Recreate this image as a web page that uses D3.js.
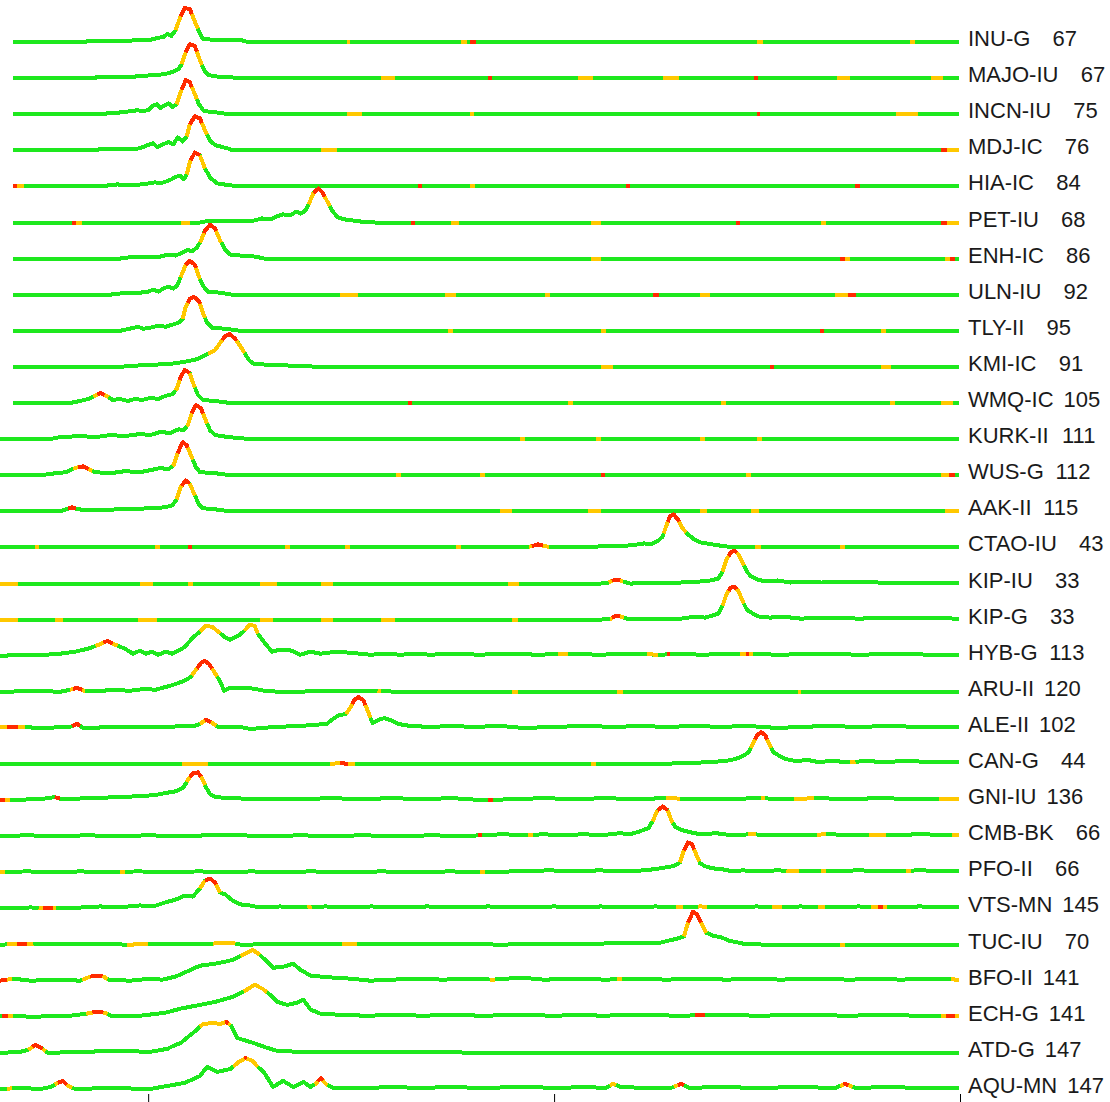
<!DOCTYPE html>
<html>
<head>
<meta charset="utf-8">
<script src="https://cdn.jsdelivr.net/npm/d3@7"></script>
<style>
  body { margin: 0; background: #fff; }
  svg { display: block; }
  .lbl { font-family: "Liberation Sans", Arial, sans-serif; font-size: 22px; fill: #1a1a1a; }
</style>
</head>
<body>
<div id="chart"></div>
<script>
//Estaciones y distancias (grados)
const stations = ['INU-G','MAJO-IU','INCN-IU','MDJ-IC','HIA-IC','PET-IU','ENH-IC','ULN-IU','TLY-II','KMI-IC',
  'WMQ-IC','KURK-II','WUS-G','AAK-II','CTAO-IU','KIP-IU','KIP-G','HYB-G','ARU-II','ALE-II',
  'CAN-G','GNI-IU','CMB-BK','PFO-II','VTS-MN','TUC-IU','BFO-II','ECH-G','ATD-G','AQU-MN'];
const distances = [67,67,75,76,84,68,86,92,95,91,105,111,112,115,43,33,33,113,120,102,44,136,66,66,145,70,141,141,147,147];
const timeTicks = [0, 400, 800];

//Envolventes: [tiempo (s), amplitud (%)]
const INU_G = [[-133,0],[-62,0],[-59,3],[-18,3],[-14,6],[2,6],[9,12],[15,15],[19,24],[23,18],[27,35],[32,76],[36,100],[41,97],[47,53],[50,32],[54,9],[66,6],[91,6],[98,0],[799,0]];
const MAJO_IU = [[-133,0],[-52,0],[-51,3],[-18,3],[-8,6],[7,9],[17,12],[24,18],[30,26],[33,41],[37,76],[41,100],[46,94],[51,53],[55,24],[59,9],[71,3],[101,0],[799,0]];
const INCN_IU = [[-133,0],[-42,0],[-40,3],[-30,3],[-28,6],[-15,9],[-11,12],[-5,9],[0,12],[4,24],[9,29],[12,18],[16,26],[20,32],[24,21],[28,29],[32,65],[37,100],[41,94],[46,59],[50,29],[55,9],[66,6],[79,0],[799,0]];
const MDJ_IC = [[-133,0],[-50,0],[-49,3],[-15,3],[-8,6],[-1,15],[5,21],[9,9],[15,18],[20,24],[25,18],[29,38],[34,26],[38,41],[41,76],[46,100],[51,94],[56,59],[61,29],[66,15],[78,6],[83,0],[799,0]];
const HIA_IC = [[-133,0],[-42,0],[-40,3],[-30,6],[-26,3],[-5,6],[7,12],[12,9],[18,15],[23,21],[28,29],[32,32],[35,21],[38,35],[41,71],[46,100],[51,91],[56,53],[61,26],[68,9],[81,3],[94,0],[799,0]];
const PET_IU = [[-133,0],[51,0],[56,3],[91,3],[105,6],[112,12],[120,9],[127,18],[133,24],[140,21],[146,32],[150,26],[155,35],[159,59],[163,88],[168,100],[172,88],[177,59],[182,32],[187,15],[194,9],[209,3],[224,0],[799,0]];
const ENH_IC = [[-133,0],[-28,0],[-23,3],[12,6],[20,12],[27,9],[34,18],[39,26],[43,21],[48,32],[52,53],[56,82],[61,100],[66,88],[71,53],[76,26],[81,12],[91,9],[105,6],[115,0],[799,0]];
const ULN_IU = [[-133,0],[-37,0],[-32,3],[-8,6],[0,9],[5,15],[10,9],[15,18],[20,24],[25,18],[29,29],[33,59],[37,88],[41,100],[46,88],[50,53],[54,26],[59,9],[71,6],[83,0],[799,0]];
const TLY_II = [[-133,0],[-28,0],[-23,3],[-10,12],[-5,6],[2,9],[10,15],[17,12],[24,18],[30,24],[34,35],[37,71],[41,94],[45,100],[50,88],[54,53],[58,24],[63,9],[76,6],[91,0],[799,0]];
const KMI_IC = [[-133,0],[-28,0],[-18,3],[2,6],[22,9],[36,15],[46,21],[51,26],[56,35],[61,41],[66,50],[71,71],[76,91],[80,97],[85,85],[90,65],[95,41],[99,21],[104,9],[120,6],[150,3],[170,0],[799,0]];
const WMQ_IC = [[-133,0],[-77,0],[-67,6],[-59,12],[-53,21],[-47,29],[-41,21],[-35,9],[-28,12],[-20,6],[-13,12],[-6,9],[2,15],[10,12],[17,21],[24,26],[28,41],[32,76],[36,97],[41,88],[45,53],[49,24],[54,9],[66,6],[81,0],[799,0]];
const KURK_II = [[-146,0],[-97,0],[-87,6],[-67,9],[-52,6],[-37,12],[-23,9],[-8,15],[2,12],[12,21],[22,18],[30,29],[35,26],[39,41],[43,76],[47,100],[52,91],[57,53],[61,26],[66,12],[79,6],[101,0],[799,0]];
const WUS_G = [[-146,0],[-106,0],[-91,6],[-81,9],[-75,18],[-69,24],[-64,26],[-59,18],[-52,9],[-37,6],[-23,12],[-8,9],[2,15],[12,21],[20,18],[25,29],[29,65],[34,97],[38,88],[43,53],[47,24],[51,9],[66,6],[81,0],[799,0]];
const AAK_II = [[-146,0],[-87,0],[-81,6],[-75,12],[-69,6],[-57,3],[-28,6],[2,9],[17,12],[24,18],[28,35],[32,71],[37,91],[41,82],[46,47],[50,21],[54,9],[66,6],[81,0],[799,0]];
const CTAO_IU = [[-146,0],[367,0],[377,3],[384,9],[392,3],[406,0],[446,3],[476,6],[489,12],[495,9],[503,21],[507,32],[510,59],[514,91],[518,97],[522,82],[526,59],[531,41],[537,26],[544,15],[556,9],[569,3],[584,0],[799,0]];
const KIP_IU = [[-146,0],[446,0],[454,3],[458,9],[463,12],[468,6],[475,0],[525,3],[544,6],[554,9],[562,15],[566,35],[570,71],[574,91],[578,97],[582,85],[586,59],[590,35],[594,21],[600,12],[609,6],[620,9],[633,3],[650,6],[663,3],[690,6],[720,3],[799,3]];
const KIP_G = [[-146,0],[446,0],[456,3],[461,12],[466,9],[472,3],[525,3],[539,9],[549,6],[556,12],[562,18],[566,41],[570,76],[574,94],[578,97],[582,82],[586,53],[590,29],[596,18],[602,9],[613,6],[625,9],[643,3],[670,6],[700,3],[740,6],[799,3]];
const HYB_G = [[-146,0],[-116,3],[-101,3],[-87,6],[-72,12],[-59,21],[-49,32],[-40,44],[-32,32],[-23,21],[-15,6],[-8,15],[-2,6],[4,12],[10,3],[17,12],[24,6],[30,15],[36,26],[44,53],[51,71],[57,88],[63,85],[69,71],[75,56],[81,47],[89,59],[95,74],[100,91],[105,88],[108,65],[114,41],[122,12],[130,18],[142,15],[150,3],[160,12],[170,6],[185,12],[199,9],[219,3],[235,6],[248,3],[265,6],[278,3],[300,6],[327,3],[350,6],[386,3],[410,6],[446,3],[470,6],[505,3],[525,6],[544,3],[580,6],[623,3],[660,6],[702,3],[740,6],[770,3],[799,3]];
const ARU_II = [[-146,0],[-106,3],[-87,0],[-77,6],[-70,12],[-63,3],[-47,3],[-32,6],[-18,3],[-3,9],[7,6],[14,12],[22,18],[30,26],[37,35],[42,44],[47,65],[52,85],[56,91],[60,82],[65,59],[70,35],[75,3],[81,12],[95,12],[105,9],[115,3],[130,0],[200,3],[260,0],[799,0]];
const ALE_II = [[-146,3],[-126,3],[-106,0],[-77,3],[-70,12],[-64,0],[-28,3],[12,3],[46,6],[51,12],[57,24],[63,15],[69,3],[91,3],[101,-3],[125,3],[150,6],[164,9],[176,12],[182,26],[188,38],[195,41],[199,59],[203,82],[207,91],[212,82],[216,53],[221,15],[227,24],[233,29],[241,21],[246,12],[258,6],[278,3],[300,6],[320,3],[347,6],[370,0],[400,3],[430,6],[460,3],[485,6],[510,3],[540,6],[564,3],[590,6],[620,0],[643,3],[670,6],[700,3],[730,6],[760,3],[799,3]];
const CAN_G = [[-146,0],[179,0],[189,3],[199,0],[495,0],[534,3],[554,6],[569,9],[579,15],[586,24],[592,35],[596,59],[600,85],[604,94],[608,85],[612,59],[616,35],[622,24],[628,15],[638,9],[650,12],[660,6],[673,9],[690,6],[710,9],[722,6],[750,9],[770,6],[799,6]];
const GNI_IU = [[-146,0],[-106,3],[-92,9],[-85,3],[-57,6],[-28,9],[-8,12],[7,15],[17,21],[27,26],[35,38],[39,59],[44,79],[49,82],[53,65],[57,38],[61,18],[66,9],[81,6],[110,3],[150,3],[180,6],[210,3],[240,6],[270,3],[300,6],[330,0],[360,3],[390,6],[420,3],[450,6],[480,3],[510,6],[540,3],[570,3],[600,6],[630,3],[660,6],[690,3],[720,6],[760,3],[799,3]];
const CMB_BK = [[-146,0],[-120,3],[-90,0],[-60,3],[-30,0],[0,3],[30,0],[60,3],[90,3],[120,0],[150,3],[180,0],[210,3],[248,0],[280,3],[310,0],[327,3],[350,6],[372,3],[390,6],[406,3],[430,6],[446,3],[465,9],[475,6],[485,15],[493,24],[497,44],[502,76],[507,88],[512,76],[516,44],[520,26],[526,18],[534,12],[544,6],[560,9],[575,3],[594,6],[615,3],[643,3],[670,6],[700,3],[730,3],[760,6],[799,3]];
const PFO_II = [[-146,0],[-120,3],[-90,0],[-67,3],[-40,0],[-10,3],[20,0],[50,3],[80,0],[101,3],[130,0],[160,3],[199,0],[230,3],[260,0],[298,3],[330,0],[360,3],[396,6],[420,3],[445,6],[466,3],[490,6],[505,12],[517,18],[524,29],[528,65],[532,88],[536,82],[540,53],[544,26],[549,18],[556,12],[566,9],[576,3],[586,6],[600,3],[620,6],[643,3],[670,3],[700,6],[730,3],[760,6],[799,3]];
const VTS_MN = [[-146,0],[-116,3],[-87,0],[-65,3],[-47,6],[-30,3],[-8,9],[5,6],[17,18],[27,26],[36,38],[44,35],[51,59],[56,82],[61,88],[66,76],[71,47],[76,41],[83,24],[91,12],[100,9],[110,3],[130,6],[150,3],[175,6],[199,3],[220,6],[248,3],[275,6],[308,3],[335,6],[367,3],[400,6],[425,3],[446,6],[470,3],[500,6],[525,3],[544,6],[570,3],[600,6],[620,3],[643,6],[670,3],[700,6],[730,3],[760,6],[799,3]];
const TUC_IU = [[-146,0],[-87,3],[-21,0],[64,3],[81,6],[91,0],[248,3],[347,0],[446,3],[505,6],[522,18],[528,24],[532,65],[537,97],[541,88],[546,59],[550,35],[557,26],[565,21],[572,12],[586,3],[605,0],[799,0]];
const BFO_II = [[-146,0],[-133,6],[-116,0],[-87,3],[-67,0],[-57,12],[-51,15],[-44,12],[-39,3],[-18,0],[2,6],[14,3],[27,12],[36,24],[51,44],[66,50],[76,56],[84,62],[93,76],[103,91],[110,76],[115,62],[123,38],[133,41],[143,50],[150,32],[160,15],[170,12],[183,9],[199,6],[219,0],[240,3],[268,6],[290,3],[317,6],[340,3],[367,9],[390,3],[426,6],[450,3],[485,6],[510,3],[544,6],[570,3],[600,6],[623,3],[650,6],[692,3],[720,6],[741,3],[770,6],[799,3]];
const ECH_G = [[-146,3],[-133,3],[-116,0],[-77,3],[-61,9],[-51,15],[-43,12],[-37,3],[-8,3],[17,12],[32,24],[51,35],[66,44],[84,59],[95,76],[105,94],[113,82],[120,65],[127,44],[137,35],[146,41],[153,50],[160,21],[170,9],[189,6],[215,3],[248,6],[270,3],[298,6],[330,3],[367,6],[400,3],[430,6],[446,3],[480,6],[525,3],[560,6],[604,3],[640,6],[692,3],[720,6],[760,3],[799,3]];
const ATD_G = [[-146,0],[-126,3],[-118,9],[-111,24],[-104,12],[-99,0],[-67,3],[-28,6],[2,3],[19,12],[25,21],[32,29],[38,44],[48,68],[54,85],[64,88],[71,85],[77,91],[82,79],[88,44],[94,38],[104,29],[117,15],[127,6],[150,3],[248,3],[347,0],[799,0]];
const AQU_MN = [[-146,0],[-126,3],[-106,0],[-96,6],[-89,18],[-84,24],[-79,9],[-72,0],[-37,3],[2,0],[19,9],[36,18],[51,38],[58,65],[68,50],[81,59],[89,79],[96,91],[103,82],[108,65],[114,50],[123,6],[133,24],[143,6],[153,21],[160,6],[165,15],[170,32],[175,15],[183,3],[216,3],[240,6],[268,3],[300,6],[327,3],[370,6],[406,3],[430,6],[451,3],[458,15],[466,6],[490,3],[515,3],[525,15],[533,3],[560,6],[604,3],[640,6],[677,3],[687,15],[697,3],[730,6],[760,3],[799,3]];

//Tramos coloreados: [t inicio, t fin, nivel] (1 = amarillo, 2 = rojo)
const INU_G_col = [[27,32,1],[32,43,2],[43,49,1],[196,199,1],[308,314,1],[317,323,2],[600,606,1],[751,756,1]];
const MAJO_IU_col = [[33,37,1],[37,48,2],[48,53,1],[229,243,1],[335,339,2],[424,438,1],[507,523,1],[597,601,2],[679,692,1],[771,783,1]];
const INCN_IU_col = [[28,33,1],[33,43,2],[43,48,1],[196,211,1],[317,321,1],[600,603,2],[737,759,1]];
const MDJ_IC_col = [[38,41,1],[41,53,2],[53,58,1],[170,186,1],[781,787,2],[787,799,1]];
const HIA_IC_col = [[-133,-129,2],[-129,-122,1],[38,42,1],[42,51,2],[51,56,1],[266,270,2],[317,322,1],[471,475,2],[697,701,2]];
const PET_IU_col = [[-75,-71,2],[-71,-65,1],[32,41,1],[158,163,1],[163,174,2],[174,179,1],[259,263,2],[298,306,1],[436,446,1],[579,583,2],[663,668,1],[781,787,2],[787,799,1]];
const ENH_IC_col = [[51,55,1],[55,67,2],[67,72,1],[436,446,1],[682,687,2],[687,692,1],[785,790,1],[790,795,2]];
const ULN_IU_col = [[32,37,1],[37,47,2],[47,51,1],[189,207,1],[293,303,1],[391,396,1],[497,503,2],[544,554,1],[677,690,1],[690,698,2]];
const TLY_II_col = [[34,39,1],[39,51,2],[51,56,1],[295,300,1],[446,451,1],[662,666,2],[722,727,1]];
const KMI_IC_col = [[59,73,1],[73,87,2],[87,95,1],[446,458,1],[613,617,2],[722,732,1]];
const WMQ_IC_col = [[-54,-50,1],[-50,-43,2],[-43,-39,1],[27,31,1],[31,41,2],[41,46,1],[256,260,2],[414,419,1],[564,569,1],[731,736,1],[781,793,1]];
const KURK_II_col = [[38,43,1],[43,54,2],[54,58,1],[366,371,1],[441,446,1],[544,549,1],[600,605,1]];
const WUS_G_col = [[-74,-69,1],[-69,-59,2],[-59,-55,1],[24,29,1],[29,39,2],[39,44,1],[244,249,1],[327,332,1],[446,450,2],[589,594,1],[781,789,1],[789,795,2]];
const AAK_II_col = [[-79,-71,2],[28,33,1],[33,41,2],[41,46,1],[347,359,1],[433,446,1],[544,551,1],[594,602,1],[785,799,1]];
const CTAO_IU_col = [[-112,-108,1],[7,12,1],[39,43,2],[135,140,1],[194,199,1],[303,308,1],[375,378,1],[378,389,2],[389,395,1],[508,512,1],[512,523,2],[523,530,1],[598,604,1],[682,687,1]];
const KIP_IU_col = [[-146,-128,1],[-8,5,1],[39,44,1],[110,127,1],[170,182,1],[355,365,1],[454,457,1],[457,465,2],[465,468,1],[566,572,1],[572,580,2],[580,587,1]];
const KIP_G_col = [[-146,-128,1],[-92,-84,1],[-10,9,1],[110,123,1],[170,182,1],[229,243,1],[359,364,1],[455,457,1],[457,465,2],[465,469,1],[566,572,1],[572,580,2],[580,587,1]];
const HYB_G_col = [[-52,-44,1],[-44,-35,2],[-35,-30,1],[51,71,1],[95,108,1],[404,414,1],[492,502,1],[511,514,2],[583,596,1],[589,592,2]];
const ARU_II_col = [[-77,-74,1],[-74,-65,2],[-65,-62,1],[43,48,1],[48,63,2],[63,68,1],[226,229,1],[359,364,1],[462,468,1],[640,643,1]];
const ALE_II_col = [[-146,-139,1],[-139,-128,2],[-128,-121,1],[-75,-67,2],[51,56,1],[56,62,2],[62,67,1],[195,201,1],[201,214,2],[214,219,1]];
const CAN_G_col = [[33,59,1],[179,189,1],[189,197,2],[197,204,1],[436,441,1],[594,598,1],[598,610,2],[610,614,1],[692,697,1]];
const GNI_IU_col = [[-146,-141,2],[-141,-136,1],[-92,-87,2],[38,41,1],[41,52,2],[52,56,1],[335,340,2],[510,524,1],[604,608,1],[636,656,1],[779,799,1]];
const CMB_BK_col = [[325,329,2],[374,379,1],[497,502,1],[502,512,2],[512,517,1],[591,599,1],[659,668,1],[710,727,1],[792,799,1]];
const PFO_II_col = [[-146,-141,1],[-28,-23,1],[327,332,1],[524,528,1],[528,538,2],[538,543,1],[629,641,1],[663,668,1],[747,752,1]];
const VTS_MN_col = [[-108,-104,1],[-104,-94,2],[-94,-91,1],[51,56,1],[56,67,2],[67,71,1],[157,161,1],[520,527,1],[542,551,1],[615,625,1],[660,667,1],[712,719,1],[719,724,2],[724,728,1]];
const TUC_IU_col = [[-139,-129,1],[-129,-119,2],[-119,-113,1],[-21,0,1],[64,86,1],[191,206,1],[528,532,1],[532,545,2],[545,550,1],[682,687,1]];
const BFO_II_col = [[-146,-139,2],[-139,-134,1],[-65,-57,1],[-57,-45,2],[-45,-40,1],[91,110,1],[337,342,1],[462,467,1],[791,799,1]];
const ECH_G_col = [[-144,-138,2],[-138,-133,1],[-61,-55,1],[-55,-44,2],[-44,-40,1],[94,117,1],[539,549,2],[781,786,1],[786,795,2],[795,799,1]];
const ATD_G_col = [[-118,-114,1],[-114,-104,2],[-104,-101,1],[51,81,1],[76,79,2]];
const AQU_MN_col = [[-139,-134,1],[-92,-89,1],[-89,-80,2],[-80,-75,1],[84,108,1],[95,97,2],[164,167,1],[167,172,2],[172,177,1],[455,461,1],[518,522,1],[522,528,2],[682,685,1],[685,690,2],[690,694,1]];

const traces = [INU_G, MAJO_IU, INCN_IU, MDJ_IC, HIA_IC, PET_IU, ENH_IC, ULN_IU, TLY_II, KMI_IC,
  WMQ_IC, KURK_II, WUS_G, AAK_II, CTAO_IU, KIP_IU, KIP_G, HYB_G, ARU_II, ALE_II,
  CAN_G, GNI_IU, CMB_BK, PFO_II, VTS_MN, TUC_IU, BFO_II, ECH_G, ATD_G, AQU_MN];
const spans = [INU_G_col, MAJO_IU_col, INCN_IU_col, MDJ_IC_col, HIA_IC_col, PET_IU_col, ENH_IC_col, ULN_IU_col, TLY_II_col, KMI_IC_col,
  WMQ_IC_col, KURK_II_col, WUS_G_col, AAK_II_col, CTAO_IU_col, KIP_IU_col, KIP_G_col, HYB_G_col, ARU_II_col, ALE_II_col,
  CAN_G_col, GNI_IU_col, CMB_BK_col, PFO_II_col, VTS_MN_col, TUC_IU_col, BFO_II_col, ECH_G_col, ATD_G_col, AQU_MN_col];

//Colores fijos
const COLOR_GREEN = '#1ee81e',
  COLOR_YELLOW = '#ffc800',
  COLOR_RED = '#ff2a00';
const levelColor = {1: COLOR_YELLOW, 2: COLOR_RED};

const width = 1110, height = 1102;

const svg = d3.select('#chart')
  .append('svg')
    .attr('width', width)
    .attr('height', height);

//Escalas
let x = d3.scaleLinear().domain([-146, 800]).range([0, 960]);
let row = d3.scalePoint().domain(stations).range([42, 1089]);
let amp = d3.scaleLinear().domain([0, 100]).range([0, 34]);

//Recorta una envolvente entre t0 y t1
function cutTrace(pts, t0, t1) {
  let out = [];
  for (let i = 0; i < pts.length - 1; i++) {
    let [ta, aa] = pts[i], [tb, ab] = pts[i + 1];
    if (tb < t0 || ta > t1) continue;
    let f = function(t) { return tb === ta ? ab : aa + (ab - aa) * (t - ta) / (tb - ta); };
    let s = Math.max(ta, t0), e = Math.min(tb, t1);
    if (!out.length) out.push([s, f(s)]);
    out.push([e, f(e)]);
  }
  return out;
}

let gTraces = svg.append('g').attr('class', 'traces');

traces.forEach(function(pts, i) {
  let y0 = row(stations[i]);
  let line = d3.line()
    .x(function(d) { return x(d[0]); })
    .y(function(d) { return y0 - amp(d[1]); });

  let g = gTraces.append('g');

  g.append('path')
    .attr('d', line(pts))
    .attr('fill', 'none')
    .attr('stroke', COLOR_GREEN)
    .attr('stroke-width', 4)
    .attr('stroke-linejoin', 'round')
    .attr('shape-rendering', 'crispEdges');

  spans[i].forEach(function(s) {
    let seg = cutTrace(pts, s[0], s[1]);
    if (seg.length < 2) return;
    g.append('path')
      .attr('d', line(seg))
      .attr('fill', 'none')
      .attr('stroke', levelColor[s[2]])
      .attr('stroke-width', 4)
      .attr('stroke-linejoin', 'round')
      .attr('shape-rendering', 'crispEdges');
  });

  //Etiqueta: estación + distancia
  let name = g.append('text')
    .attr('class', 'lbl')
    .attr('x', 968)
    .attr('y', y0 + 4)
    .text(stations[i]);
  let w = name.node().getComputedTextLength();
  let digit = 22 * 0.556;
  g.append('text')
    .attr('class', 'lbl')
    .attr('x', 968 + w + 10 + 3 * digit)
    .attr('y', y0 + 4)
    .attr('text-anchor', 'end')
    .text(distances[i]);
});

//Eje X (solo marcas)
let xAxis = svg.append('g')
  .attr('transform', 'translate(0,1094)')
  .call(d3.axisBottom(x).tickValues(timeTicks).tickSize(8).tickFormat(''));
xAxis.select('.domain').remove();
xAxis.selectAll('line').attr('stroke', '#000');
</script>
</body>
</html>
